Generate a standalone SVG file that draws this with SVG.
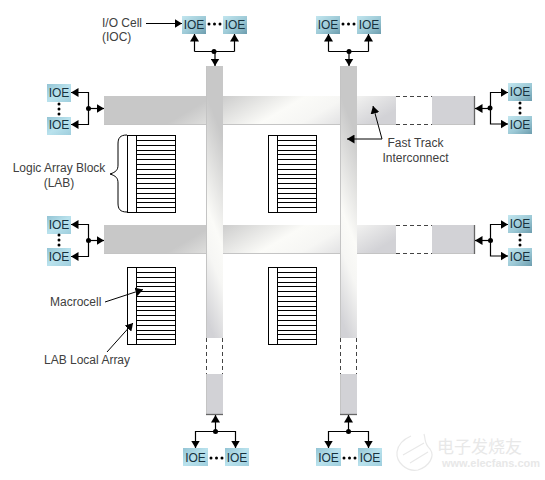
<svg xmlns="http://www.w3.org/2000/svg" xmlns:xlink="http://www.w3.org/1999/xlink" width="545" height="480" viewBox="0 0 545 480">
<style>
text{font-family:"Liberation Sans",Arial,sans-serif;font-size:12px;fill:#404040}
.ioe text{fill:#17323e;text-anchor:middle}
.c{text-anchor:middle}
.w{fill:none;stroke:#000;stroke-width:1.2}
.a{fill:none;stroke:#000;stroke-width:1;marker-end:url(#arr)}
.w2{fill:none;stroke:#000;stroke-width:1.2;marker-end:url(#arr)}
.edge{stroke:#c4c4c4;stroke-width:1;fill:none}
.dash{stroke:#444;stroke-width:1;stroke-dasharray:4 3;fill:none}
.cap{stroke:#666;stroke-width:1.3;fill:none}
.lab{fill:#fff;stroke:#000;stroke-width:1}
.lr{stroke:#000;stroke-width:1;fill:none}
.wml{fill:none;stroke:#e8e8e8;stroke-width:1.2}
</style>
<defs>
<marker id="arr" markerUnits="userSpaceOnUse" markerWidth="8" markerHeight="9" refX="7.500" refY="4.500" orient="auto"><path d="M0 0L7.500 4.500L0 9Z" fill="#000"/></marker>
<linearGradient id="ioeT" x1="0" y1="0" x2="1" y2="1"><stop offset="0" stop-color="#c2e6ef"/><stop offset=".55" stop-color="#9cc9d6"/><stop offset="1" stop-color="#6d9dae"/></linearGradient>
<linearGradient id="ioeL" x1="0" y1="0" x2="1" y2="1"><stop offset="0" stop-color="#93c4d4"/><stop offset=".5" stop-color="#b9e2ed"/><stop offset="1" stop-color="#9fcedd"/></linearGradient>
<linearGradient id="h1" gradientUnits="userSpaceOnUse" x1="190" y1="0" x2="396" y2="0" gradientTransform="matrix(1 0 -1.7 1 187 0)"><stop offset="0" stop-color="#c8c8c8"/><stop offset=".45" stop-color="#fbfbf8"/><stop offset=".65" stop-color="#f6f6f4"/><stop offset="1" stop-color="#d2d2d6"/></linearGradient>
<linearGradient id="h2" gradientUnits="userSpaceOnUse" x1="190" y1="0" x2="396" y2="0" gradientTransform="matrix(1 0 -1.7 1 406 0)"><stop offset="0" stop-color="#c8c8c8"/><stop offset=".45" stop-color="#fbfbf8"/><stop offset=".65" stop-color="#f6f6f4"/><stop offset="1" stop-color="#d2d2d6"/></linearGradient>
<linearGradient id="v1" gradientUnits="userSpaceOnUse" x1="0" y1="115" x2="0" y2="338" gradientTransform="matrix(1 2.500 0 1 0 -536)"><stop offset="0" stop-color="#c8c8c8"/><stop offset=".5" stop-color="#fbfbf8"/><stop offset=".68" stop-color="#f6f6f4"/><stop offset="1" stop-color="#d2d2d6"/></linearGradient>
<linearGradient id="v2" gradientUnits="userSpaceOnUse" x1="0" y1="115" x2="0" y2="338" gradientTransform="matrix(1 2.500 0 1 0 -871)"><stop offset="0" stop-color="#c8c8c8"/><stop offset=".5" stop-color="#fbfbf8"/><stop offset=".68" stop-color="#f6f6f4"/><stop offset="1" stop-color="#d2d2d6"/></linearGradient>
<g id="labShape">
<rect class="lab" x=".5" y=".5" width="48" height="77"/>
<path class="lr" d="M9.500 .5V77.500M9.500 5.500H48.500M9.500 10.500H48.500M9.500 15.500H48.500M9.500 19.500H48.500M9.500 24.500H48.500M9.500 29.500H48.500M9.500 34.500H48.500M9.500 39.500H48.500M9.500 43.500H48.500M9.500 48.500H48.500M9.500 53.500H48.500M9.500 58.500H48.500M9.500 63.500H48.500M9.500 67.500H48.500M9.500 72.500H48.500"/>
</g>
</defs>

<g id="track-h1">
<rect x="104" y="96" width="292" height="29" fill="url(#h1)"/>
<rect x="432" y="96" width="43" height="29" fill="#d2d2d6"/>
<path class="edge" d="M104 124.500H396M432 124.500H475"/>
<path class="dash" d="M396 96.500H432M396 124.500H432"/>
<path class="cap" d="M474.500 96V125"/>
</g>
<g id="track-h2">
<rect x="104" y="225" width="292" height="28" fill="url(#h2)"/>
<rect x="432" y="225" width="43" height="28" fill="#d2d2d6"/>
<path class="edge" d="M104 253.500H396M432 253.500H475"/>
<path class="dash" d="M396 225.500H432M396 253.500H432"/>
<path class="cap" d="M474.500 225V254"/>
</g>
<g id="track-v1">
<rect x="206" y="66" width="17" height="272" fill="url(#v1)"/>
<rect x="206" y="374" width="17" height="40" fill="#d2d2d6"/>
<path class="edge" d="M206.500 66V338M206.500 374V414"/>
<path class="dash" d="M206.500 338V374M222.500 338V374"/>
<path class="cap" d="M206 414.500H223"/>
</g>
<g id="track-v2">
<rect x="340" y="66" width="17" height="272" fill="url(#v2)"/>
<rect x="340" y="374" width="17" height="40" fill="#d2d2d6"/>
<path class="edge" d="M340.500 66V338M340.500 374V414"/>
<path class="dash" d="M340.500 338V374M356.500 338V374"/>
<path class="cap" d="M340 414.500H357"/>
</g>

<g id="lab-1"><use xlink:href="#labShape" href="#labShape" x="127" y="135"/></g>
<g id="lab-2"><use xlink:href="#labShape" href="#labShape" x="268" y="135"/></g>
<g id="lab-3"><use xlink:href="#labShape" href="#labShape" x="127" y="267"/></g>
<g id="lab-4"><use xlink:href="#labShape" href="#labShape" x="268" y="267"/></g>

<g id="connectors">
<path class="w" d="M194.500 51.500H234.500M328.500 51.500H368.500"/>
<path class="w2" d="M194.500 51.500V34"/><path class="w2" d="M234.500 51.500V34"/><path class="w2" d="M215 51.500V66"/>
<path class="w2" d="M328.500 51.500V34"/><path class="w2" d="M368.500 51.500V34"/><path class="w2" d="M349 51.500V66"/>
<path class="w2" d="M88.500 108.500V92.500H71"/><path class="w2" d="M88.500 108.500V124.500H71"/><path class="w2" d="M88.500 108.500H104"/>
<path class="w2" d="M88.500 240.500V224.500H71"/><path class="w2" d="M88.500 240.500V256.500H71"/><path class="w2" d="M88.500 240.500H104"/>
<path class="w2" d="M490.500 108.500V92.500H508"/><path class="w2" d="M490.500 108.500V124H508"/><path class="w2" d="M490.500 108.500H475"/>
<path class="w2" d="M490.500 240.500V224.500H508"/><path class="w2" d="M490.500 240.500V256H508"/><path class="w2" d="M490.500 240.500H475"/>
<path class="w2" d="M215.500 431.500H195.500V448"/><path class="w2" d="M215.500 431.500H235.500V448"/><path class="w2" d="M215.500 431.500V415"/>
<path class="w2" d="M348.500 431.500H328.500V448"/><path class="w2" d="M348.500 431.500H368.500V448"/><path class="w2" d="M348.500 431.500V415"/>
<g fill="#000">
<circle cx="214" cy="51.500" r="2.500"/><circle cx="349" cy="51.500" r="2.500"/>
<circle cx="88.500" cy="108.500" r="2.500"/><circle cx="88.500" cy="240.500" r="2.500"/>
<circle cx="490" cy="108" r="2.500"/><circle cx="490.500" cy="240.500" r="2.500"/>
<circle cx="215.500" cy="431.500" r="2.500"/><circle cx="348.500" cy="431.500" r="2.500"/>
</g>
<path class="a" d="M146 23.500H182"/>
<path class="a" d="M382 139H347"/>
<path class="a" d="M382 139L373 106"/>
<path class="a" d="M105 302L143 289.500"/>
<path class="a" d="M107 352L133 323"/>
<path class="lr" d="M127 135C120 135 118 138 118 144V165C118 170 116 172 110 174C116 176 118 178 118 183V203C118 209 120 212 127 212"/>
</g>

<g id="ioe-t1" class="ioe"><rect x="182" y="16" width="24" height="18" fill="url(#ioeT)"/><text x="194" y="29">IOE</text></g>
<g id="ioe-t2" class="ioe"><rect x="223" y="16" width="24" height="18" fill="url(#ioeT)"/><text x="235" y="29">IOE</text></g>
<g id="ioe-t3" class="ioe"><rect x="316" y="16" width="24" height="18" fill="url(#ioeT)"/><text x="328" y="29">IOE</text></g>
<g id="ioe-t4" class="ioe"><rect x="357" y="16" width="24" height="18" fill="url(#ioeT)"/><text x="369" y="29">IOE</text></g>
<g id="ioe-l1" class="ioe"><rect x="47" y="84" width="24" height="18" fill="url(#ioeL)"/><text x="59" y="97">IOE</text></g>
<g id="ioe-l2" class="ioe"><rect x="47" y="117" width="24" height="18" fill="url(#ioeL)"/><text x="59" y="129">IOE</text></g>
<g id="ioe-l3" class="ioe"><rect x="47" y="216" width="24" height="18" fill="url(#ioeL)"/><text x="59" y="229">IOE</text></g>
<g id="ioe-l4" class="ioe"><rect x="47" y="248" width="24" height="18" fill="url(#ioeL)"/><text x="59" y="261">IOE</text></g>
<g id="ioe-r1" class="ioe"><rect x="508" y="83" width="24" height="18" fill="url(#ioeT)"/><text x="520" y="96">IOE</text></g>
<g id="ioe-r2" class="ioe"><rect x="508" y="116" width="24" height="18" fill="url(#ioeT)"/><text x="520" y="129">IOE</text></g>
<g id="ioe-r3" class="ioe"><rect x="508" y="215" width="24" height="18" fill="url(#ioeT)"/><text x="520" y="228">IOE</text></g>
<g id="ioe-r4" class="ioe"><rect x="508" y="248" width="24" height="18" fill="url(#ioeT)"/><text x="520" y="261">IOE</text></g>
<g id="ioe-b1" class="ioe"><rect x="183" y="448" width="25" height="18" fill="url(#ioeL)"/><text x="195.500" y="462">IOE</text></g>
<g id="ioe-b2" class="ioe"><rect x="225" y="448" width="24" height="18" fill="url(#ioeL)"/><text x="237" y="462">IOE</text></g>
<g id="ioe-b3" class="ioe"><rect x="316" y="448" width="25" height="18" fill="url(#ioeL)"/><text x="328.500" y="462">IOE</text></g>
<g id="ioe-b4" class="ioe"><rect x="358" y="448" width="24" height="18" fill="url(#ioeL)"/><text x="370" y="462">IOE</text></g>

<g id="ellipses" fill="#000">
<circle cx="209" cy="24" r="1.500"/><circle cx="214.500" cy="24" r="1.500"/><circle cx="220" cy="24" r="1.500"/>
<circle cx="343" cy="24" r="1.500"/><circle cx="348.500" cy="24" r="1.500"/><circle cx="354" cy="24" r="1.500"/>
<circle cx="59" cy="104" r="1.500"/><circle cx="59" cy="109" r="1.500"/><circle cx="59" cy="114" r="1.500"/>
<circle cx="59" cy="235" r="1.500"/><circle cx="59" cy="240" r="1.500"/><circle cx="59" cy="245" r="1.500"/>
<circle cx="520" cy="103" r="1.500"/><circle cx="520" cy="108" r="1.500"/><circle cx="520" cy="113" r="1.500"/>
<circle cx="520" cy="235" r="1.500"/><circle cx="520" cy="240" r="1.500"/><circle cx="520" cy="245" r="1.500"/>
<circle cx="211" cy="458" r="1.500"/><circle cx="216.500" cy="458" r="1.500"/><circle cx="222" cy="458" r="1.500"/>
<circle cx="344" cy="458" r="1.500"/><circle cx="349.500" cy="458" r="1.500"/><circle cx="355" cy="458" r="1.500"/>
</g>

<g id="labels">
<text x="102" y="27">I/O Cell</text>
<text x="102" y="41">(IOC)</text>
<text class="c" x="59" y="172">Logic Array Block</text>
<text class="c" x="59" y="187">(LAB)</text>
<text class="c" x="415.500" y="147">Fast Track</text>
<text class="c" x="415.500" y="162">Interconnect</text>
<text x="50" y="306">Macrocell</text>
<text x="44" y="364">LAB Local Array</text>
</g>

<g id="watermark">
<path class="wml" d="M424 434C426 441 424 443 430 449C435 456 430 466 418 470C406 472 396 462 397 452C398 444 404 439 411 436"/>
<path class="wml" d="M403 455L424 443M410 463L428 452"/>
<text x="437" y="453" style="font-family:'Liberation Sans','Noto Sans CJK SC',sans-serif;font-size:17px;fill:#e8e8e8">电子发烧友</text>
<text x="442" y="467" style="font-size:11px;font-weight:bold;fill:#e8e8e8">www.elecfans.com</text>
</g>
</svg>
